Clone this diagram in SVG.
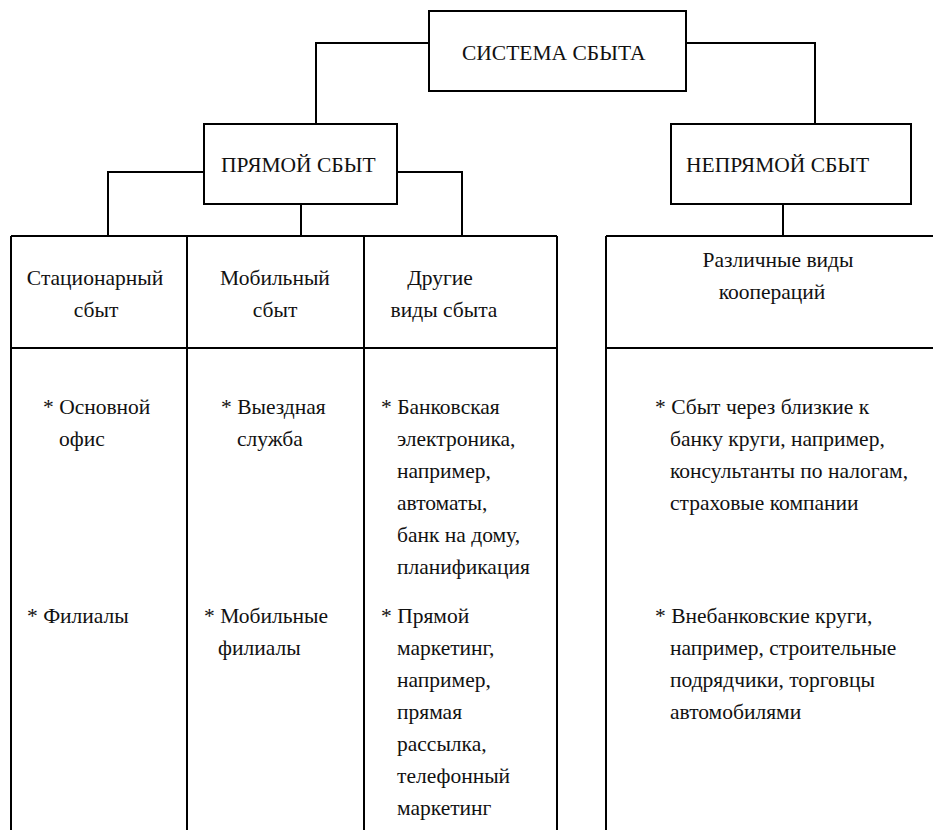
<svg xmlns="http://www.w3.org/2000/svg" width="933" height="830" viewBox="0 0 933 830" font-family="Liberation Serif, DejaVu Serif, serif" font-size="21.5">
<style>
  .box { fill: #fff; stroke: #000; stroke-width: 2; }
  .ln { fill: none; stroke: #000; stroke-width: 2; }
  .t { font-family: 'Liberation Serif', 'DejaVu Serif', serif; font-size: 21.5px; fill: #111; }
  .c { text-anchor: middle; }
</style>
<rect width="933" height="830" fill="#fff"/>
<g id="connectors">
  <path class="ln" d="M429 43 H316 V124"/>
  <path class="ln" d="M686 43 H815 V124"/>
  <path class="ln" d="M204 172 H108 V236"/>
  <path class="ln" d="M397 172 H462 V236"/>
  <path class="ln" d="M301 204 V236"/>
  <path class="ln" d="M783 204 V236"/>
</g>
<g id="sistema">
  <rect class="box" x="429" y="11" width="257" height="80"/>
  <text class="t" x="462" y="60">СИСТЕМА СБЫТА</text>
</g>
<g id="pryamoy">
  <rect class="box" x="204" y="124" width="193" height="80"/>
  <text class="t" x="221" y="172">ПРЯМОЙ СБЫТ</text>
</g>
<g id="nepryamoy">
  <rect class="box" x="671" y="124" width="240" height="80"/>
  <text class="t" x="686" y="172">НЕПРЯМОЙ СБЫТ</text>
</g>
<g id="table-direct">
  <path class="ln" d="M11 236 H557 M11 348 H557 M11 236 V830 M187 236 V830 M364 236 V830 M557 236 V830"/>
</g>
<g id="stationary">
  <text class="t c" x="95" y="285">Стационарный</text>
  <text class="t c" x="96" y="317">сбыт</text>
  <text class="t" x="43" y="414">* Основной</text>
  <text class="t" x="59" y="446">офис</text>
  <text class="t" x="27" y="623">* Филиалы</text>
</g>
<g id="mobile">
  <text class="t c" x="275" y="285">Мобильный</text>
  <text class="t c" x="275" y="317">сбыт</text>
  <text class="t" x="221" y="414">* Выездная</text>
  <text class="t" x="237" y="446">служба</text>
  <text class="t" x="204" y="623">* Мобильные</text>
  <text class="t" x="218" y="655">филиалы</text>
</g>
<g id="other">
  <text class="t c" x="440" y="285">Другие</text>
  <text class="t c" x="444" y="317">виды сбыта</text>
  <text class="t" x="381" y="414">* Банковская</text>
  <text class="t" x="397" y="446">электроника,</text>
  <text class="t" x="397" y="478">например,</text>
  <text class="t" x="397" y="510">автоматы,</text>
  <text class="t" x="397" y="542">банк на дому,</text>
  <text class="t" x="397" y="574">планификация</text>
  <text class="t" x="381" y="623">* Прямой</text>
  <text class="t" x="397" y="655">маркетинг,</text>
  <text class="t" x="397" y="687">например,</text>
  <text class="t" x="397" y="719">прямая</text>
  <text class="t" x="397" y="751">рассылка,</text>
  <text class="t" x="397" y="783">телефонный</text>
  <text class="t" x="397" y="815">маркетинг</text>
</g>
<g id="table-indirect">
  <path class="ln" d="M606 236 H933 M606 348 H933 M606 236 V830"/>
</g>
<g id="cooperation">
  <text class="t c" x="778" y="267">Различные виды</text>
  <text class="t c" x="772" y="299">коопераций</text>
  <text class="t" x="655" y="414">* Сбыт через близкие к</text>
  <text class="t" x="670" y="446">банку круги, например,</text>
  <text class="t" x="670" y="478">консультанты по налогам,</text>
  <text class="t" x="670" y="510">страховые компании</text>
  <text class="t" x="655" y="623">* Внебанковские круги,</text>
  <text class="t" x="670" y="655">например, строительные</text>
  <text class="t" x="670" y="687">подрядчики, торговцы</text>
  <text class="t" x="670" y="719">автомобилями</text>
</g>
</svg>
